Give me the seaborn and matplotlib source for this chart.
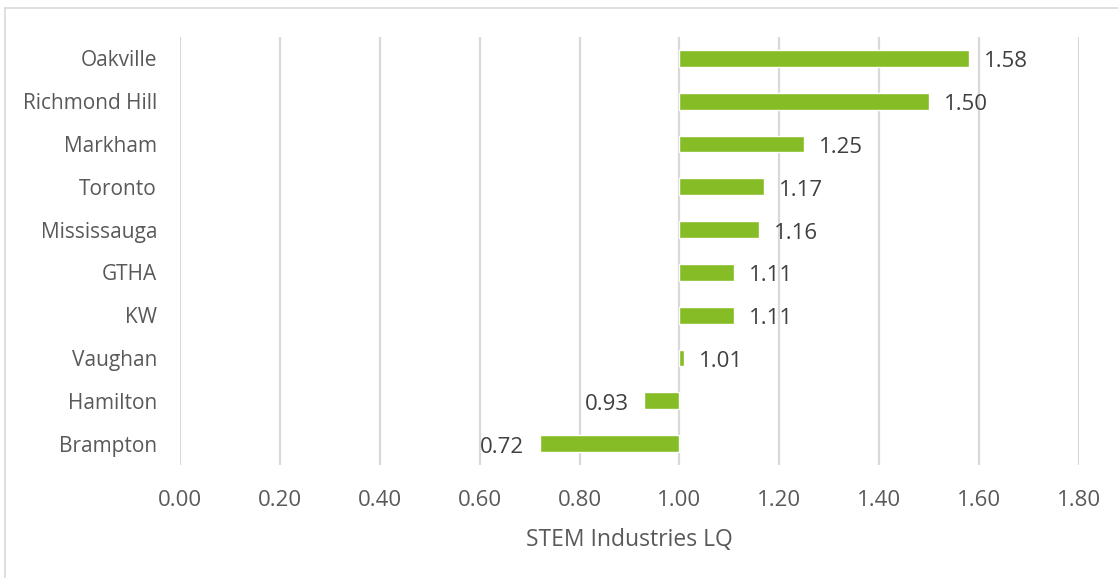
import matplotlib
matplotlib.use("Agg")
import matplotlib.pyplot as plt
from matplotlib.lines import Line2D
import seaborn as sns
import pandas as pd

cities = ["Oakville", "Richmond Hill", "Markham", "Toronto", "Mississauga",
          "GTHA", "KW", "Vaughan", "Hamilton", "Brampton"]
lq = [1.58, 1.50, 1.25, 1.17, 1.16, 1.11, 1.11, 1.01, 0.93, 0.72]
x_ticks = [0.00, 0.20, 0.40, 0.60, 0.80, 1.00, 1.20, 1.40, 1.60, 1.80]
baseline = 1.0

df = pd.DataFrame({"city": cities, "lq": lq})
df["delta"] = df["lq"] - baseline

sns.set_style("white")
plt.rcParams["font.family"] = ["Open Sans", "DejaVu Sans"]

fig = plt.figure(figsize=(11.18, 5.78), dpi=100)
ax = fig.add_axes([180 / 1118, 1 - 465 / 578, (1079 - 180) / 1118, (465 - 37) / 578])

# Bars grow from the LQ = 1.0 baseline
sns.barplot(data=df, x="delta", y="city", orient="h", color="#86BC25",
            saturation=1, width=0.39, left=baseline, ax=ax, zorder=3)

ax.set_xlim(0, 1.8)
ax.set_ylim(len(cities) - 0.5, -0.5)
ax.set_xticks(x_ticks)
ax.set_xticklabels([f"{t:.2f}" for t in x_ticks])
ax.xaxis.grid(True, color="#D9D9D9", linewidth=1.6, zorder=0)
ax.yaxis.grid(False)
for s in ax.spines.values():
    s.set_visible(False)
ax.tick_params(axis="both", length=0, labelcolor="#595959")
ax.tick_params(axis="x", pad=18, labelsize=16)
ax.tick_params(axis="y", pad=16.5, labelsize=15)
ax.set_ylabel("")
ax.set_xlabel("STEM Industries LQ", fontsize=16.5, color="#595959", labelpad=12)

for i, v in enumerate(lq):
    if v >= baseline:
        ax.annotate(f"{v:.2f}", (v, i), xytext=(10.5, -2.5), textcoords="offset points",
                    ha="left", va="center", fontsize=16, color="#404040")
    else:
        ax.annotate(f"{v:.2f}", (v, i), xytext=(-11.5, -2.5), textcoords="offset points",
                    ha="right", va="center", fontsize=16, color="#404040")

# Light frame on the left and top edges
fig.add_artist(Line2D([5 / 1118, 5 / 1118], [0, 1 - 8 / 578], transform=fig.transFigure,
                      color="#D9D9D9", linewidth=1.2))
fig.add_artist(Line2D([5 / 1118, 1], [1 - 8 / 578, 1 - 8 / 578], transform=fig.transFigure,
                      color="#D9D9D9", linewidth=1.2))

fig.savefig("out.png", dpi=100, facecolor="white")
